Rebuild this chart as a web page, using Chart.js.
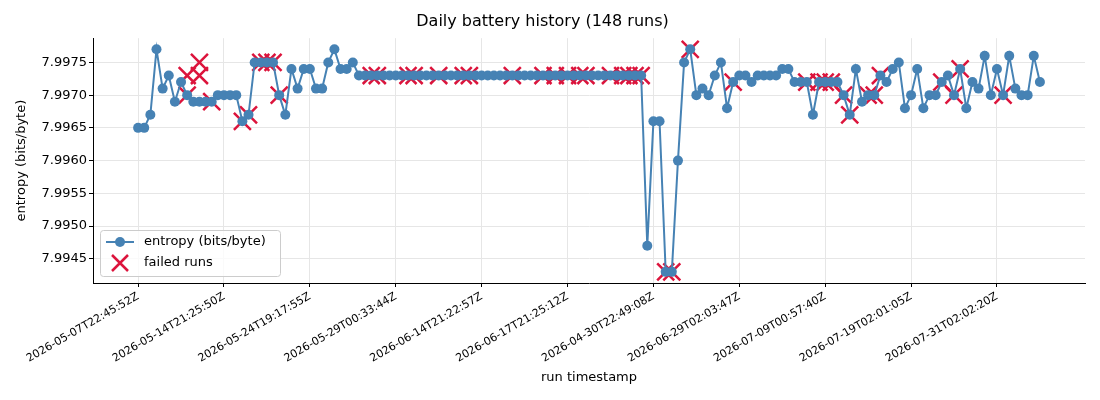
<!DOCTYPE html>
<html>
<head>
<meta charset="utf-8">
<title>Daily battery history</title>
<script src="https://cdn.jsdelivr.net/npm/chart.js@4.4.1/dist/chart.umd.min.js"></script>
<style>
  html, body { margin: 0; padding: 0; background: #fff; }
  #wrap { position: relative; width: 1100px; height: 400px; }
</style>
</head>
<body>
<div id="wrap"><canvas id="historyChart"></canvas></div>
<script>
// entropy of each run, in run order (148 runs)
const entropy = [
  7.9965, 7.9965, 7.9967, 7.9977, 7.9971, 7.9973, 7.9969, 7.9972, 7.9970, 7.9969, // 0-9
  7.9969, 7.9969, 7.9969, 7.9970, 7.9970, 7.9970, 7.9970, 7.9966, 7.9967, 7.9975, // 10-19
  7.9975, 7.9975, 7.9975, 7.9970, 7.9967, 7.9974, 7.9971, 7.9974, 7.9974, 7.9971, // 20-29
  7.9971, 7.9975, 7.9977, 7.9974, 7.9974, 7.9975, 7.9973, 7.9973, 7.9973, 7.9973, // 30-39
  7.9973, 7.9973, 7.9973, 7.9973, 7.9973, 7.9973, 7.9973, 7.9973, 7.9973, 7.9973, // 40-49
  7.9973, 7.9973, 7.9973, 7.9973, 7.9973, 7.9973, 7.9973, 7.9973, 7.9973, 7.9973, // 50-59
  7.9973, 7.9973, 7.9973, 7.9973, 7.9973, 7.9973, 7.9973, 7.9973, 7.9973, 7.9973, // 60-69
  7.9973, 7.9973, 7.9973, 7.9973, 7.9973, 7.9973, 7.9973, 7.9973, 7.9973, 7.9973, // 70-79
  7.9973, 7.9973, 7.9973, 7.9947, 7.9966, 7.9966, 7.9943, 7.9943, 7.9960, 7.9975, // 80-89
  7.9977, 7.9970, 7.9971, 7.9970, 7.9973, 7.9975, 7.9968, 7.9972, 7.9973, 7.9973, // 90-99
  7.9972, 7.9973, 7.9973, 7.9973, 7.9973, 7.9974, 7.9974, 7.9972, 7.9972, 7.9972, // 100-109
  7.9967, 7.9972, 7.9972, 7.9972, 7.9972, 7.9970, 7.9967, 7.9974, 7.9969, 7.9970, // 110-119
  7.9970, 7.9973, 7.9972, 7.9974, 7.9975, 7.9968, 7.9970, 7.9974, 7.9968, 7.9970, // 120-129
  7.9970, 7.9972, 7.9973, 7.9970, 7.9974, 7.9968, 7.9972, 7.9971, 7.9976, 7.9970, // 130-139
  7.9974, 7.9970, 7.9976, 7.9971, 7.9970, 7.9970, 7.9976, 7.9972                  // 140-147
];

// failed runs: run index + entropy value
const failedIdx = [
  8, 8, 10, 10, 12, 17, 18, 20, 21, 22, 23,
  38, 39, 44, 45, 49, 53, 54, 61, 66, 68, 70, 72, 73, 77, 79, 80, 81, 82,
  86, 87, 90, 97, 109, 111, 112, 113, 115, 116, 119, 120, 121, 131, 133, 134, 141
];
const failedVal = [
  7.9970, 7.9973, 7.9975, 7.9973, 7.9969, 7.9966, 7.9967, 7.9975, 7.9975, 7.9975, 7.9970,
  7.9973, 7.9973, 7.9973, 7.9973, 7.9973, 7.9973, 7.9973, 7.9973, 7.9973,
  7.9973, 7.9973, 7.9973, 7.9973, 7.9973, 7.9973, 7.9973, 7.9973, 7.9973,
  7.9943, 7.9943, 7.9977, 7.9972, 7.9972, 7.9972, 7.9972, 7.9972, 7.9970, 7.9967,
  7.9970, 7.9970, 7.9973, 7.9972, 7.9970, 7.9974, 7.9970
];

// x axis ticks (every 14th run)
const tickIdx = [0, 14, 28, 42, 56, 70, 84, 98, 112, 126, 140];
const tickLabels = [
  '2026-05-07T22:45:52Z', '2026-05-14T21:25:50Z', '2026-05-24T19:17:55Z',
  '2026-05-29T00:33:44Z', '2026-06-14T21:22:57Z', '2026-06-17T21:25:12Z',
  '2026-04-30T22:49:08Z', '2026-06-29T02:03:47Z', '2026-07-09T00:57:40Z',
  '2026-07-19T02:01:05Z', '2026-07-31T02:02:20Z'
];
const yTicks = [7.9945, 7.9950, 7.9955, 7.9960, 7.9965, 7.9970, 7.9975];

Chart.defaults.font.family = "'DejaVu Sans', sans-serif";
Chart.defaults.color = '#000';

// legend drawn inside the plot, lower left
const legendInside = {
  id: 'legendInside',
  afterDraw(chart) {
    const c = chart.ctx;
    const a = chart.chartArea;
    const x = a.left + 7, y = a.bottom - 53, w = 180, h = 46;
    const ds = chart.data.datasets;
    c.save();
    c.fillStyle = 'rgba(255,255,255,0.8)';
    c.strokeStyle = '#cccccc';
    c.lineWidth = 1;
    c.beginPath();
    c.roundRect(x + 0.5, y + 0.5, w, h, 3);
    c.fill();
    c.stroke();

    // row 1: line with marker
    let ry = y + 12;
    c.strokeStyle = ds[0].borderColor;
    c.lineWidth = 2;
    c.beginPath();
    c.moveTo(x + 6, ry);
    c.lineTo(x + 34, ry);
    c.stroke();
    c.fillStyle = ds[0].pointBackgroundColor;
    c.beginPath();
    c.arc(x + 20, ry, 5, 0, Math.PI * 2);
    c.fill();

    // row 2: cross
    let ry2 = y + 33;
    c.strokeStyle = ds[1].borderColor;
    c.lineWidth = 2.5;
    c.beginPath();
    c.moveTo(x + 12, ry2 - 8); c.lineTo(x + 28, ry2 + 8);
    c.moveTo(x + 28, ry2 - 8); c.lineTo(x + 12, ry2 + 8);
    c.stroke();

    c.fillStyle = '#000';
    c.font = "13px 'DejaVu Sans', sans-serif";
    c.textBaseline = 'middle';
    c.fillText(ds[0].label, x + 44, ry);
    c.fillText(ds[1].label, x + 44, ry2);
    c.restore();
  }
};

const ctx = document.getElementById('historyChart').getContext('2d');
new Chart(ctx, {
  type: 'line',
  data: {
    datasets: [
      {
        label: 'entropy (bits/byte)',
        data: entropy.map((v, i) => ({ x: i, y: v })),
        borderColor: '#4682b4',
        backgroundColor: '#4682b4',
        pointBackgroundColor: '#4682b4',
        borderWidth: 2,
        pointRadius: 5,
        pointBorderWidth: 0,
        tension: 0
      },
      {
        type: 'scatter',
        label: 'failed runs',
        data: failedIdx.map((v, i) => ({ x: v, y: failedVal[i] })),
        pointStyle: 'crossRot',
        borderColor: '#dc143c',
        backgroundColor: '#dc143c',
        pointRadius: 12,
        pointBorderWidth: 2.5,
        showLine: false
      }
    ]
  },
  options: {
    responsive: true,
    maintainAspectRatio: false,
    animation: false,
    layout: { padding: { left: 0, right: 15, top: 0, bottom: 0 } },
    plugins: {
      legend: { display: false },
      tooltip: { enabled: false },
      title: {
        display: true,
        text: 'Daily battery history (148 runs)',
        color: '#000',
        font: { size: 16, weight: 'normal' },
        padding: { top: 12, bottom: 7 }
      }
    },
    scales: {
      x: {
        type: 'linear',
        min: -7.35,
        max: 154.35,
        afterBuildTicks: s => { s.ticks = tickIdx.map(v => ({ value: v })); },
        afterFit: s => { s.height = 117; },
        ticks: {
          autoSkip: false,
          minRotation: 30,
          maxRotation: 30,
          padding: 3,
          font: { size: 11 },
          callback: (v) => tickLabels[tickIdx.indexOf(v)]
        },
        grid: { color: '#e6e6e6', tickColor: '#000', tickLength: 4 },
        border: { color: '#000', width: 1 },
        title: { display: true, text: 'run timestamp', font: { size: 13 }, padding: { top: 0, bottom: 15 } }
      },
      y: {
        min: 7.99413,
        max: 7.99787,
        afterBuildTicks: s => { s.ticks = yTicks.map(v => ({ value: v })); },
        afterFit: s => { s.width = 93; },
        ticks: {
          padding: 2,
          font: { size: 13 },
          callback: (v) => v.toFixed(4)
        },
        grid: { color: '#e6e6e6', tickColor: '#000', tickLength: 4 },
        border: { color: '#000', width: 1 },
        title: { display: true, text: 'entropy (bits/byte)', font: { size: 13 }, padding: { top: 14, bottom: 0 } }
      }
    }
  },
  plugins: [legendInside]
});
</script>
</body>
</html>
